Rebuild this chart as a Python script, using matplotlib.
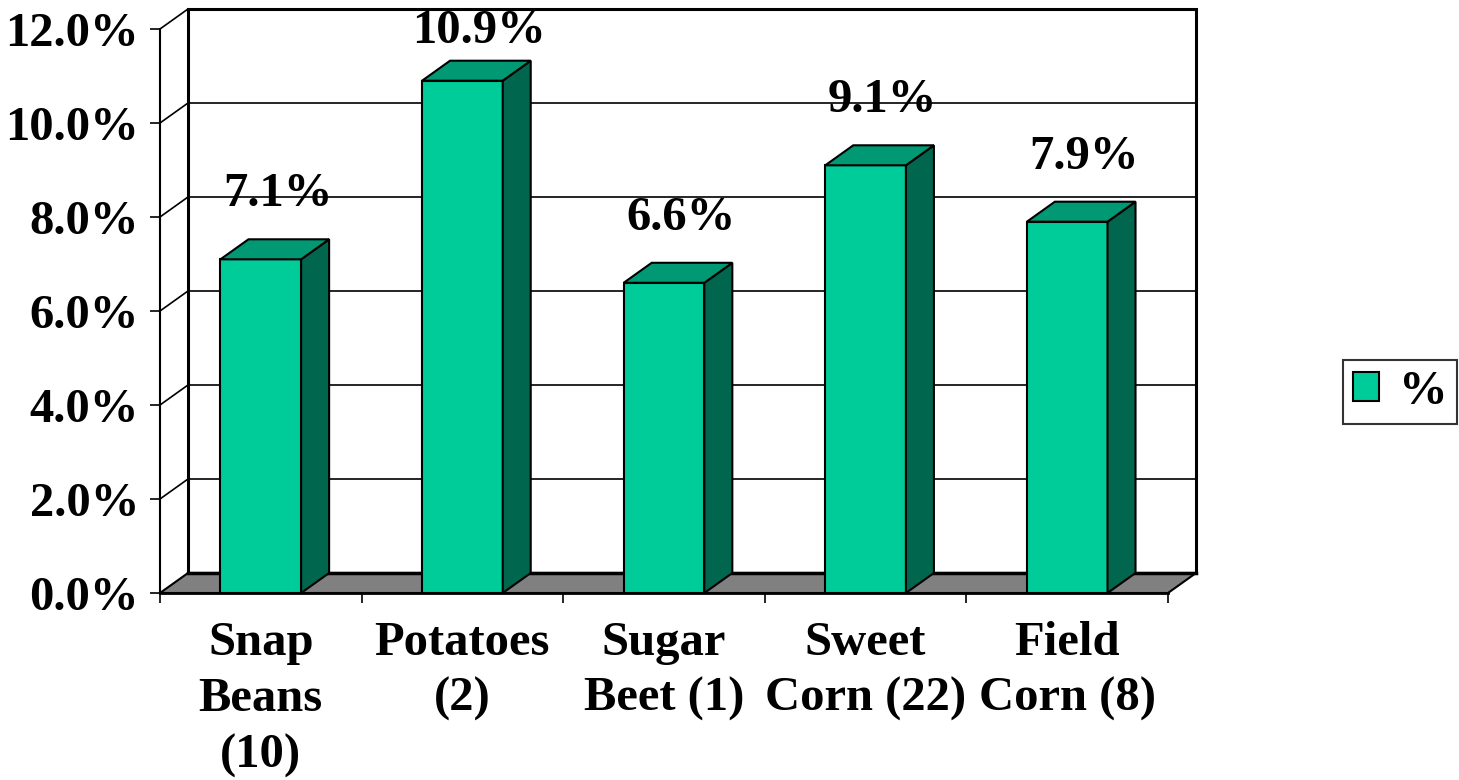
import numpy as np
import matplotlib.pyplot as plt
from matplotlib.patches import Polygon, Patch
from matplotlib.ticker import FuncFormatter

# data
categories = ["Snap\nBeans\n(10)", "Potatoes\n(2)", "Sugar\nBeet (1)", "Sweet\nCorn (22)", "Field\nCorn (8)"]
values = [7.1, 10.9, 6.6, 9.1, 7.9]
yticks = [0, 2, 4, 6, 8, 10, 12]
series_name = "%"

plt.rcParams['font.family'] = ['Liberation Serif', 'DejaVu Serif']
plt.rcParams['font.weight'] = 'bold'
FS = 35

front = "#00CC99"
side = "#00664D"
top = "#009973"
floor_c = "#808080"

fig = plt.figure(figsize=(14.59, 7.80), dpi=100)
W, H = 1459, 780
ax = fig.add_axes([160 / W, 1 - 593 / H, 1008 / W, (593 - 29) / H])
n = len(values)
ax.set_xlim(-0.5, n - 0.5)
ax.set_ylim(0, 12)
ax.patch.set_visible(False)

# 3d depth offset in data units (28 px right, 20 px up)
DX = 28 / (1008 / n)
DY = 20 / (564 / 12)
bw = 0.4
x0, x1 = -0.5, n - 0.5

# back wall
wall = Polygon([(x0 + DX, DY), (x1 + DX, DY), (x1 + DX, 12 + DY), (x0 + DX, 12 + DY)],
               closed=True, facecolor="white", edgecolor="black", lw=2.2, clip_on=False, zorder=0.5)
ax.add_patch(wall)
for t in yticks[1:-1]:
    ax.plot([x0 + DX, x1 + DX], [t + DY, t + DY], color="black", lw=1.2, clip_on=False, zorder=0.6)
for t in yticks[1:]:
    ax.plot([x0, x0 + DX], [t, t + DY], color="black", lw=1.2, clip_on=False, zorder=0.6)

# floor
floor = Polygon([(x0, 0), (x1, 0), (x1 + DX, DY), (x0 + DX, DY)], closed=True,
                facecolor=floor_c, edgecolor="black", lw=1.5, clip_on=False, zorder=0.7)
ax.add_patch(floor)
ax.plot([x0 + DX, x1 + DX], [DY, DY], color="black", lw=2.5, clip_on=False, zorder=0.8)

# bars
for i, v in enumerate(values):
    l, r = i - bw / 2, i + bw / 2
    ax.add_patch(Polygon([(l, 0), (r, 0), (r, v), (l, v)], closed=True,
                         facecolor=front, edgecolor="black", lw=1.5, clip_on=False, zorder=3))
    ax.add_patch(Polygon([(r, 0), (r + DX, DY), (r + DX, v + DY), (r, v)], closed=True,
                         facecolor=side, edgecolor="black", lw=1.5, clip_on=False, zorder=3))
    ax.add_patch(Polygon([(l, v), (r, v), (r + DX, v + DY), (l + DX, v + DY)], closed=True,
                         facecolor=top, edgecolor="black", lw=1.5, clip_on=False, zorder=3))
    ly = min(v + DY + 0.7, 11.7)
    ax.text(i + DX / 2 + 0.015, ly, f"{v:.1f}%", ha="center", va="baseline",
            fontsize=FS, fontweight="bold", zorder=4)

# axes
for s in ["top", "right"]:
    ax.spines[s].set_visible(False)
ax.spines["left"].set_linewidth(1.5)
ax.spines["bottom"].set_linewidth(2)
ax.set_yticks(yticks)
ax.yaxis.set_major_formatter(FuncFormatter(lambda v, p: f"{v:.1f}%"))
ax.tick_params(axis="y", direction="out", length=7.2, width=1.2, pad=8, labelsize=FS)
ax.set_xticks(np.arange(-0.5, n, 1))
ax.set_xticklabels([])
ax.set_xticks(np.arange(n), minor=True)
ax.set_xticklabels(categories, minor=True, fontsize=FS, fontweight="bold", linespacing=1.36)
ax.tick_params(axis="x", which="major", direction="out", length=7.2, width=1.2)
ax.tick_params(axis="x", which="minor", length=0, pad=20)
for lab in ax.get_yticklabels():
    lab.set_fontweight("bold")

leg = fig.legend(handles=[Patch(facecolor=front, edgecolor="black", lw=1.5, label=series_name)],
                 loc="center left", bbox_to_anchor=(1343 / W, 1 - 392 / H),
                 fontsize=FS, frameon=True, fancybox=False, handlelength=0.55, handleheight=0.55,
                 handletextpad=0.4, borderpad=0.2, borderaxespad=0)
leg.get_frame().set_edgecolor("black")
leg.get_frame().set_linewidth(1.5)
for t in leg.get_texts():
    t.set_fontweight("bold")

fig.savefig("out.png", dpi=100)
